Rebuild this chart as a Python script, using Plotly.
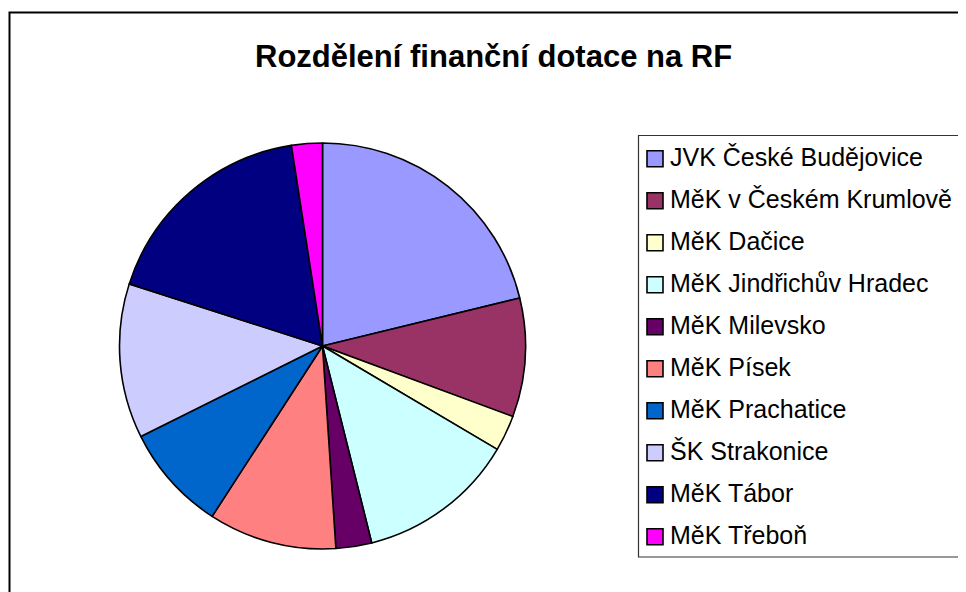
import plotly.graph_objects as go

# ---- data ----
labels = [
    "JVK České Budějovice",
    "MěK v Českém Krumlově",
    "MěK Dačice",
    "MěK Jindřichův Hradec",
    "MěK Milevsko",
    "MěK Písek",
    "MěK Prachatice",
    "ŠK Strakonice",
    "MěK Tábor",
    "MěK Třeboň",
]
shares = [21.2, 9.45, 2.85, 12.6, 2.85, 10.2, 8.5, 12.3, 17.6, 2.45]
colors = ["#9999FF", "#993366", "#FFFFCC", "#CCFFFF", "#660066",
          "#FF8080", "#0066CC", "#CCCCFF", "#000080", "#FF00FF"]
title_text = "Rozdělení finanční dotace na RF"

W, H = 966, 592
OFF = 8  # page body margin offset
FONT = "Liberation Sans, Arial, sans-serif"

def px(x):
    return (x - OFF) / W

def py(y):
    return 1 - (y - OFF) / H

cx, cy, r = 322.5, 346, 203

fig = go.Figure()
fig.add_trace(go.Pie(
    labels=labels,
    values=shares,
    sort=False,
    direction="clockwise",
    rotation=0,
    textinfo="none",
    hoverinfo="label+percent",
    marker=dict(colors=colors, line=dict(color="black", width=1.6)),
    domain=dict(x=[px(cx - r), px(cx + r)], y=[py(cy + r), py(cy - r)]),
    showlegend=False,
))

shapes = []
annotations = []

# outer chart frame
shapes.append(dict(type="rect", xref="paper", yref="paper",
                   x0=px(9.5), x1=px(1020), y0=py(640), y1=py(12.5),
                   line=dict(color="black", width=2), layer="below"))
# legend box
shapes.append(dict(type="rect", xref="paper", yref="paper",
                   x0=px(638.5), x1=px(1020), y0=py(557), y1=py(135.5),
                   line=dict(color="#333333", width=1.2), layer="below"))

# title
annotations.append(dict(text="<b>" + title_text + "</b>", xref="paper", yref="paper",
                        x=px(494), y=py(56), xanchor="center", yanchor="middle",
                        showarrow=False, font=dict(family=FONT, size=31, color="black")))

# manual legend
y0_leg, step = 158.7, 42.0
for i, (lab, col) in enumerate(zip(labels, colors)):
    yc = y0_leg + i * step
    shapes.append(dict(type="rect", xref="paper", yref="paper",
                       x0=px(647), x1=px(663), y0=py(yc + 8), y1=py(yc - 8),
                       fillcolor=col, line=dict(color="black", width=1.6)))
    annotations.append(dict(text=lab, xref="paper", yref="paper",
                            x=px(668), y=py(yc - 2), xanchor="left", yanchor="middle",
                            showarrow=False, font=dict(family=FONT, size=25, color="black")))

fig.update_layout(
    width=W, height=H,
    margin=dict(l=0, r=0, t=0, b=0),
    paper_bgcolor="white",
    plot_bgcolor="white",
    shapes=shapes,
    annotations=annotations,
    showlegend=False,
)

fig.write_html("out.html")
